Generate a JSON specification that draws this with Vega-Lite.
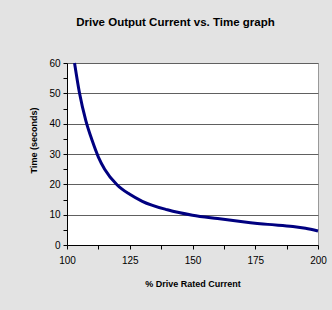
{
  "$schema": "https://vega.github.io/schema/vega-lite/v6.json",
  "width": 251,
  "height": 182,
  "autosize": {"type": "none"},
  "padding": {"left": 67, "top": 63, "right": 14, "bottom": 65},
  "background": "#e3e3e3",
  "title": {
    "text": "Drive Output Current vs. Time graph",
    "font": "Liberation Sans",
    "fontSize": 11.5,
    "fontWeight": "bold",
    "color": "#000000",
    "anchor": "middle",
    "frame": "group",
    "baseline": "alphabetic",
    "offset": 20,
    "dx": -17
  },
  "config": {
    "view": {"fill": "#ffffff", "stroke": "#999999", "strokeWidth": 1},
    "axis": {
      "labelFont": "Liberation Sans",
      "labelFontSize": 10,
      "labelColor": "#000000",
      "titleFont": "Liberation Sans",
      "titleFontSize": 9,
      "titleFontWeight": "bold",
      "titleColor": "#000000",
      "domainColor": "#000000",
      "tickColor": "#000000",
      "tickSize": 4
    }
  },
  "data": {
    "values": [
      {"current": 103, "time": 60},
      {"current": 105, "time": 50},
      {"current": 107.5, "time": 41},
      {"current": 110, "time": 34.5},
      {"current": 112.5, "time": 29},
      {"current": 115, "time": 25},
      {"current": 120, "time": 19.8},
      {"current": 125, "time": 16.7},
      {"current": 130, "time": 14.4},
      {"current": 140, "time": 11.6},
      {"current": 150, "time": 9.8},
      {"current": 160, "time": 8.7},
      {"current": 170, "time": 7.7},
      {"current": 180, "time": 6.8},
      {"current": 190, "time": 6.1},
      {"current": 195, "time": 5.5},
      {"current": 200, "time": 4.6}
    ]
  },
  "mark": {"type": "line", "color": "#000080", "strokeWidth": 3, "interpolate": "monotone"},
  "encoding": {
    "x": {
      "field": "current",
      "type": "quantitative",
      "scale": {"domain": [100, 200], "nice": false},
      "axis": {
        "title": "% Drive Rated Current",
        "values": [100, 112.5, 125, 137.5, 150, 162.5, 175, 187.5, 200],
        "labelExpr": "datum.value % 25 === 0 ? datum.label : ''",
        "grid": false,
        "labelPadding": 6,
        "labelFlush": false,
        "titleBaseline": "middle",
        "titleY": 38
      }
    },
    "y": {
      "field": "time",
      "type": "quantitative",
      "scale": {"domain": [0, 60], "nice": false},
      "axis": {
        "title": "Time (seconds)",
        "values": [0, 5, 10, 15, 20, 25, 30, 35, 40, 45, 50, 55, 60],
        "labelExpr": "datum.value % 10 === 0 ? datum.label : ''",
        "grid": true,
        "gridColor": "#606060",
        "gridOpacity": {"condition": {"test": "datum.value % 10 === 0 && datum.value > 0", "value": 1}, "value": 0},
        "labelPadding": 3,
        "labelFlush": false,
        "titleX": -34,
        "titleY": 77,
        "titleBaseline": "middle",
        "titleAlign": "center"
      }
    }
  }
}
